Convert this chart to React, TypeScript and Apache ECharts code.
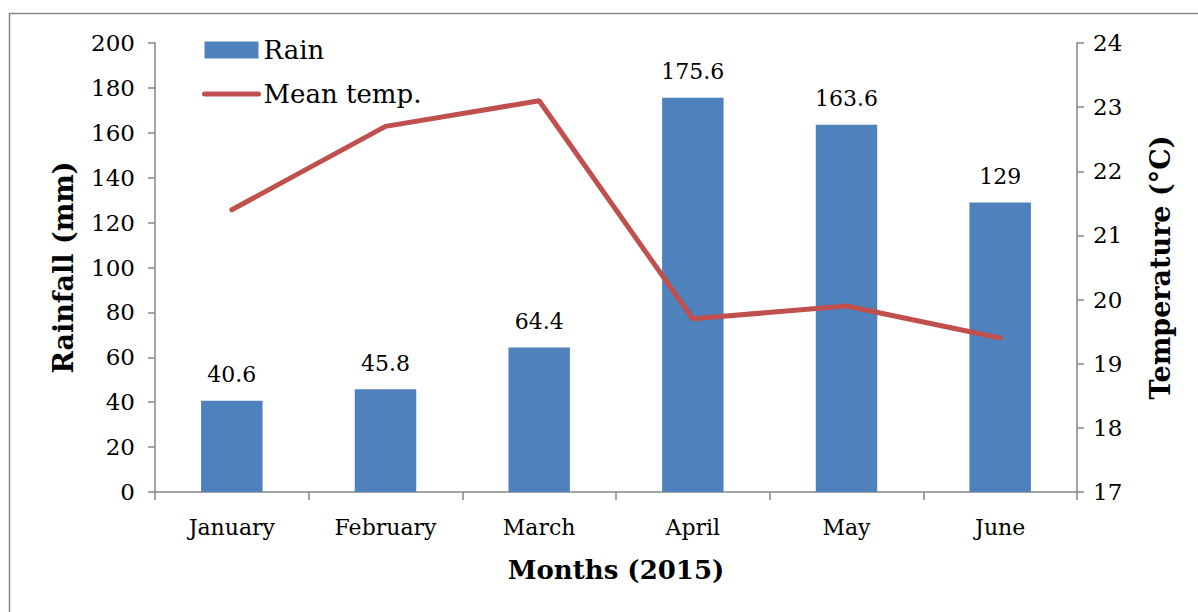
import React, { useEffect, useRef } from "react";
import * as echarts from "echarts";

const months = ["January", "February", "March", "April", "May", "June"];
const rain = [40.6, 45.8, 64.4, 175.6, 163.6, 129];
const meanTemp = [21.4, 22.7, 23.1, 19.7, 19.9, 19.4];

const FONT = "DejaVu Serif";

export default function App() {
  const ref = useRef<HTMLDivElement>(null);
  useEffect(() => {
    if (!ref.current) return;
    const chart = echarts.init(ref.current, undefined, { renderer: "svg" });
    const axisLine = { show: true, lineStyle: { color: "#868686", width: 1.5 } };
    chart.setOption({
      animation: false,
      backgroundColor: "#ffffff",
      textStyle: { fontFamily: FONT },
      graphic: [
        {
          type: "rect",
          shape: { x: 9.5, y: 13.5, width: 1400, height: 800 },
          style: { fill: "none", stroke: "#898989", lineWidth: 1.5 },
          silent: true,
        },
      ],
      grid: { left: 155, right: 121, top: 43, bottom: 120 },
      legend: {
        orient: "vertical",
        left: 202,
        top: 37,
        padding: 0,
        itemWidth: 54,
        itemHeight: 17,
        itemGap: 18,
        textStyle: { fontFamily: FONT, fontSize: 26, color: "#000" },
        data: [
          { name: "Rain", icon: "rect" },
          {
            name: "Mean temp.",
            itemStyle: { color: "rgba(0,0,0,0)", borderWidth: 0, opacity: 0 },
            lineStyle: { color: "#C0504D", width: 5, cap: "round" },
          },
        ],
      },
      xAxis: {
        type: "category",
        data: months,
        axisLine,
        axisTick: { show: true, length: 8, lineStyle: { color: "#868686", width: 1.5 } },
        axisLabel: { fontFamily: FONT, fontSize: 22, color: "#000", margin: 24 },
        name: "Months (2015)",
        nameLocation: "middle",
        nameGap: 65,
        nameTextStyle: { fontFamily: FONT, fontSize: 26, fontWeight: "bold", color: "#000" },
      },
      yAxis: [
        {
          type: "value",
          min: 0,
          max: 200,
          interval: 20,
          splitLine: { show: false },
          axisLine,
          axisTick: { show: true, length: 7, lineStyle: { color: "#868686", width: 1.5 } },
          axisLabel: { fontFamily: FONT, fontSize: 23, color: "#000", margin: 20 },
          name: "Rainfall (mm)",
          nameLocation: "middle",
          nameGap: 78,
          nameRotate: 90,
          nameTextStyle: { fontFamily: FONT, fontSize: 27, fontWeight: "bold", color: "#000" },
        },
        {
          type: "value",
          min: 17,
          max: 24,
          interval: 1,
          position: "right",
          splitLine: { show: false },
          axisLine,
          axisTick: { show: true, length: 7, lineStyle: { color: "#868686", width: 1.5 } },
          axisLabel: { fontFamily: FONT, fontSize: 23, color: "#000", margin: 16 },
          name: "Temperature (°C)",
          nameLocation: "middle",
          nameGap: 70,
          nameRotate: 90,
          nameTextStyle: { fontFamily: FONT, fontSize: 27, fontWeight: "bold", color: "#000" },
        },
      ],
      series: [
        {
          name: "Rain",
          type: "bar",
          data: rain,
          barWidth: "40%",
          itemStyle: { color: "#4F81BD" },
          label: {
            show: true,
            position: "top",
            distance: 15,
            fontFamily: FONT,
            fontSize: 22,
            color: "#000",
          },
        },
        {
          name: "Mean temp.",
          type: "line",
          yAxisIndex: 1,
          data: meanTemp,
          symbol: "none",
          lineStyle: { color: "#C0504D", width: 5, cap: "round" },
          itemStyle: { color: "#C0504D" },
        },
      ],
    });
    return () => chart.dispose();
  }, []);
  return (
    <div
      ref={ref}
      style={{ position: "fixed", left: 0, top: 0, width: 1198, height: 612 }}
    />
  );
}
